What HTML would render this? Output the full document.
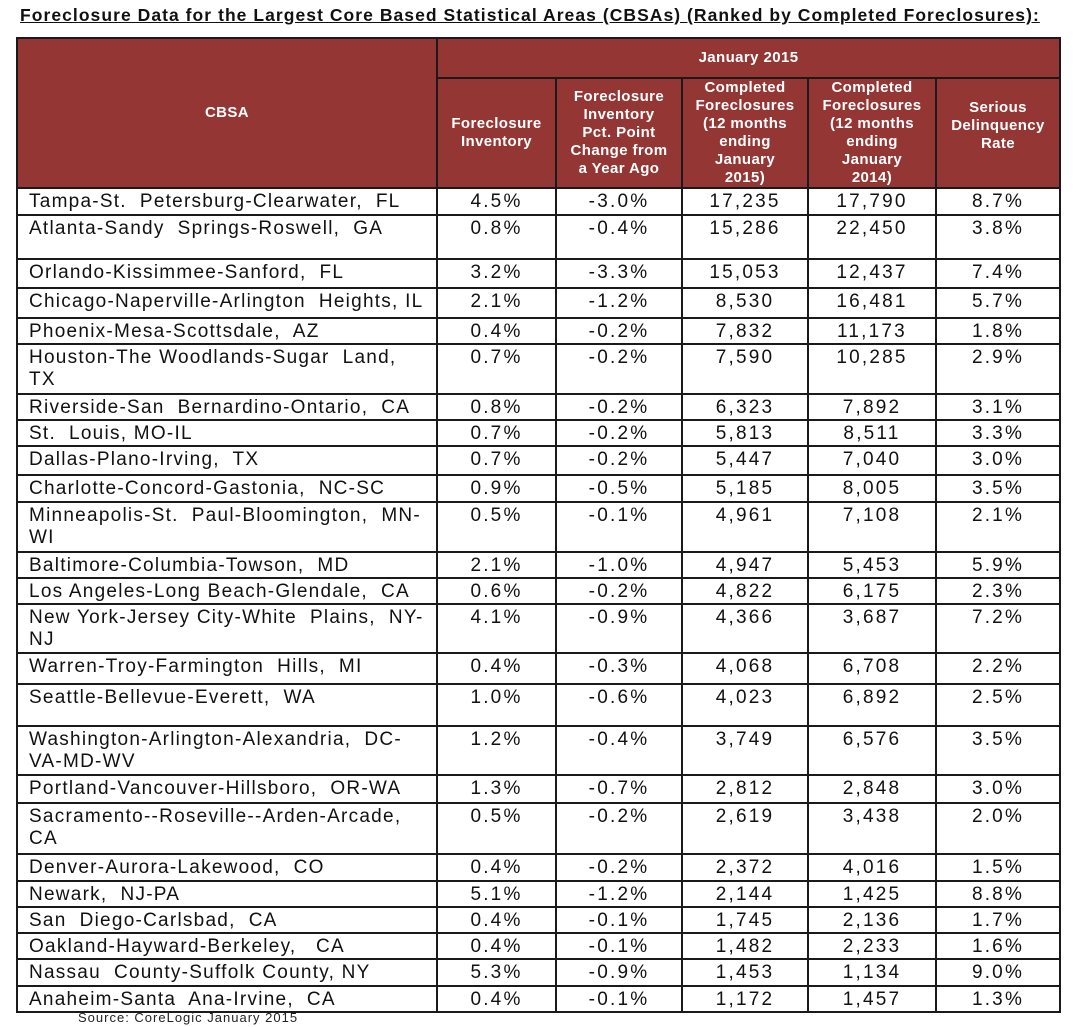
<!DOCTYPE html>
<html><head><meta charset="utf-8"><style>
body{margin:0;background:#fff;width:1079px;height:1027px;position:relative;overflow:hidden;font-family:"Liberation Sans",Arial,sans-serif;}
.title{position:absolute;left:20px;top:5px;font-size:17.5px;font-weight:bold;text-decoration:underline;color:#111;white-space:nowrap;letter-spacing:1.05px}
table{position:absolute;left:16px;top:37px;border-collapse:collapse;table-layout:fixed;}
td{border:2px solid #1a1a1a;padding:0;vertical-align:top;font-size:19px;color:#111;line-height:22px;}
td.h{background:#943634;color:#fff;font-weight:bold;font-size:15px;line-height:18px;text-align:center;vertical-align:middle;letter-spacing:0.4px}
td.n{text-align:center;padding-top:2px;letter-spacing:2.2px}
td.c{padding-left:11px;padding-top:2px;white-space:pre-wrap;letter-spacing:1.25px}
.src{position:absolute;left:78px;top:1010px;font-size:13px;color:#222;letter-spacing:1px}
</style></head><body>
<div class="title">Foreclosure Data for the Largest Core Based Statistical Areas (CBSAs) (Ranked by  Completed Foreclosures):</div>
<table>
<colgroup><col style="width:420px"><col style="width:119px"><col style="width:126px"><col style="width:126px"><col style="width:128px"><col style="width:124px"></colgroup>
<tr style="height:40px"><td class="h" rowspan="2">CBSA</td><td class="h" colspan="5">January 2015</td></tr>
<tr style="height:110px"><td class="h">Foreclosure<br>Inventory</td><td class="h">Foreclosure<br>Inventory<br>Pct. Point<br>Change from<br>a Year Ago</td><td class="h">Completed<br>Foreclosures<br>(12 months<br>ending<br>January<br>2015)</td><td class="h">Completed<br>Foreclosures<br>(12 months<br>ending<br>January<br>2014)</td><td class="h" style="padding-bottom:14px">Serious<br>Delinquency<br>Rate</td></tr>
<tr style="height:27px"><td class="c">Tampa-St.  Petersburg-Clearwater,  FL</td><td class="n">4.5%</td><td class="n">-3.0%</td><td class="n">17,235</td><td class="n">17,790</td><td class="n">8.7%</td></tr>
<tr style="height:44px"><td class="c">Atlanta-Sandy  Springs-Roswell,  GA</td><td class="n">0.8%</td><td class="n">-0.4%</td><td class="n">15,286</td><td class="n">22,450</td><td class="n">3.8%</td></tr>
<tr style="height:29px"><td class="c">Orlando-Kissimmee-Sanford,  FL</td><td class="n">3.2%</td><td class="n">-3.3%</td><td class="n">15,053</td><td class="n">12,437</td><td class="n">7.4%</td></tr>
<tr style="height:30px"><td class="c">Chicago-Naperville-Arlington  Heights, IL</td><td class="n">2.1%</td><td class="n">-1.2%</td><td class="n">8,530</td><td class="n">16,481</td><td class="n">5.7%</td></tr>
<tr style="height:26px"><td class="c">Phoenix-Mesa-Scottsdale,  AZ</td><td class="n">0.4%</td><td class="n">-0.2%</td><td class="n">7,832</td><td class="n">11,173</td><td class="n">1.8%</td></tr>
<tr style="height:50px"><td class="c">Houston-The Woodlands-Sugar  Land,
TX</td><td class="n">0.7%</td><td class="n">-0.2%</td><td class="n">7,590</td><td class="n">10,285</td><td class="n">2.9%</td></tr>
<tr style="height:26px"><td class="c">Riverside-San  Bernardino-Ontario,  CA</td><td class="n">0.8%</td><td class="n">-0.2%</td><td class="n">6,323</td><td class="n">7,892</td><td class="n">3.1%</td></tr>
<tr style="height:26px"><td class="c">St.  Louis, MO-IL</td><td class="n">0.7%</td><td class="n">-0.2%</td><td class="n">5,813</td><td class="n">8,511</td><td class="n">3.3%</td></tr>
<tr style="height:29px"><td class="c">Dallas-Plano-Irving,  TX</td><td class="n">0.7%</td><td class="n">-0.2%</td><td class="n">5,447</td><td class="n">7,040</td><td class="n">3.0%</td></tr>
<tr style="height:27px"><td class="c">Charlotte-Concord-Gastonia,  NC-SC</td><td class="n">0.9%</td><td class="n">-0.5%</td><td class="n">5,185</td><td class="n">8,005</td><td class="n">3.5%</td></tr>
<tr style="height:50px"><td class="c">Minneapolis-St.  Paul-Bloomington,  MN-
WI</td><td class="n">0.5%</td><td class="n">-0.1%</td><td class="n">4,961</td><td class="n">7,108</td><td class="n">2.1%</td></tr>
<tr style="height:26px"><td class="c">Baltimore-Columbia-Towson,  MD</td><td class="n">2.1%</td><td class="n">-1.0%</td><td class="n">4,947</td><td class="n">5,453</td><td class="n">5.9%</td></tr>
<tr style="height:26px"><td class="c">Los Angeles-Long Beach-Glendale,  CA</td><td class="n">0.6%</td><td class="n">-0.2%</td><td class="n">4,822</td><td class="n">6,175</td><td class="n">2.3%</td></tr>
<tr style="height:49px"><td class="c">New York-Jersey City-White  Plains,  NY-
NJ</td><td class="n">4.1%</td><td class="n">-0.9%</td><td class="n">4,366</td><td class="n">3,687</td><td class="n">7.2%</td></tr>
<tr style="height:31px"><td class="c">Warren-Troy-Farmington  Hills,  MI</td><td class="n">0.4%</td><td class="n">-0.3%</td><td class="n">4,068</td><td class="n">6,708</td><td class="n">2.2%</td></tr>
<tr style="height:42px"><td class="c">Seattle-Bellevue-Everett,  WA</td><td class="n">1.0%</td><td class="n">-0.6%</td><td class="n">4,023</td><td class="n">6,892</td><td class="n">2.5%</td></tr>
<tr style="height:49px"><td class="c">Washington-Arlington-Alexandria,  DC-
VA-MD-WV</td><td class="n">1.2%</td><td class="n">-0.4%</td><td class="n">3,749</td><td class="n">6,576</td><td class="n">3.5%</td></tr>
<tr style="height:28px"><td class="c">Portland-Vancouver-Hillsboro,  OR-WA</td><td class="n">1.3%</td><td class="n">-0.7%</td><td class="n">2,812</td><td class="n">2,848</td><td class="n">3.0%</td></tr>
<tr style="height:51px"><td class="c">Sacramento--Roseville--Arden-Arcade,
CA</td><td class="n">0.5%</td><td class="n">-0.2%</td><td class="n">2,619</td><td class="n">3,438</td><td class="n">2.0%</td></tr>
<tr style="height:27px"><td class="c">Denver-Aurora-Lakewood,  CO</td><td class="n">0.4%</td><td class="n">-0.2%</td><td class="n">2,372</td><td class="n">4,016</td><td class="n">1.5%</td></tr>
<tr style="height:26px"><td class="c">Newark,  NJ-PA</td><td class="n">5.1%</td><td class="n">-1.2%</td><td class="n">2,144</td><td class="n">1,425</td><td class="n">8.8%</td></tr>
<tr style="height:25px"><td class="c">San  Diego-Carlsbad,  CA</td><td class="n">0.4%</td><td class="n">-0.1%</td><td class="n">1,745</td><td class="n">2,136</td><td class="n">1.7%</td></tr>
<tr style="height:26px"><td class="c">Oakland-Hayward-Berkeley,   CA</td><td class="n">0.4%</td><td class="n">-0.1%</td><td class="n">1,482</td><td class="n">2,233</td><td class="n">1.6%</td></tr>
<tr style="height:27px"><td class="c">Nassau  County-Suffolk County, NY</td><td class="n">5.3%</td><td class="n">-0.9%</td><td class="n">1,453</td><td class="n">1,134</td><td class="n">9.0%</td></tr>
<tr style="height:24px"><td class="c">Anaheim-Santa  Ana-Irvine,  CA</td><td class="n">0.4%</td><td class="n">-0.1%</td><td class="n">1,172</td><td class="n">1,457</td><td class="n">1.3%</td></tr>
</table>
<div class="src">Source: CoreLogic January 2015</div>
</body></html>
